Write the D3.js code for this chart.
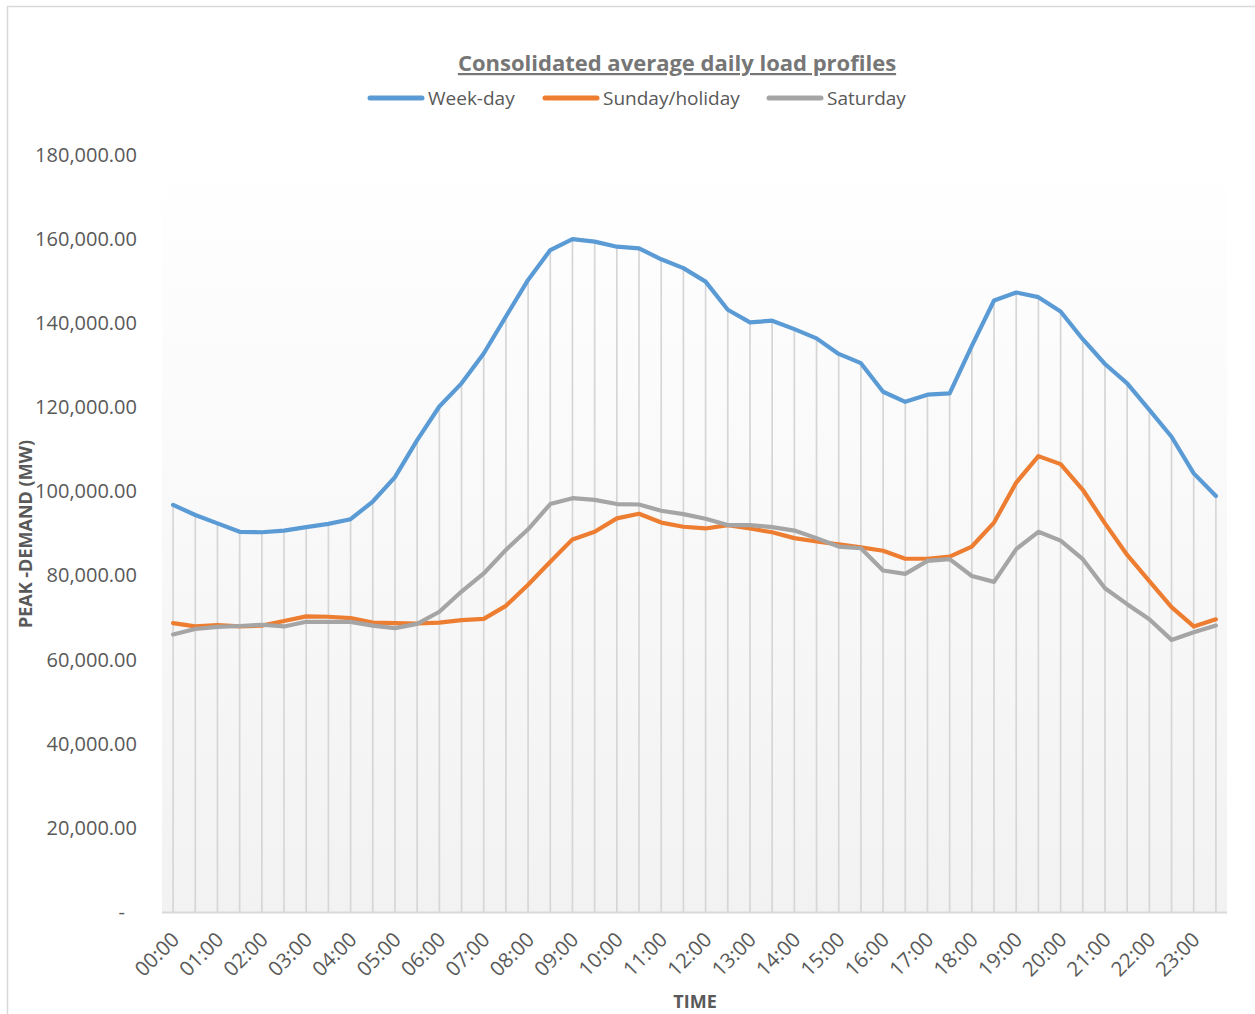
<!DOCTYPE html>
<html>
<head>
<meta charset="utf-8">
<script src="https://cdn.jsdelivr.net/npm/d3@7"></script>
<style>
  html, body { margin: 0; padding: 0; background: #ffffff; }
  svg { display: block; }
</style>
</head>
<body>
<svg id="chart" width="1255" height="1014"></svg>
<script>
// Half-hourly time slots
const times = [
  "00:00","00:30","01:00","01:30","02:00","02:30","03:00","03:30",
  "04:00","04:30","05:00","05:30","06:00","06:30","07:00","07:30",
  "08:00","08:30","09:00","09:30","10:00","10:30","11:00","11:30",
  "12:00","12:30","13:00","13:30","14:00","14:30","15:00","15:30",
  "16:00","16:30","17:00","17:30","18:00","18:30","19:00","19:30",
  "20:00","20:30","21:00","21:30","22:00","22:30","23:00","23:30"
];

// Average demand (MW) per slot
const weekday = [
  96800, 94400, 92400, 90400, 90300, 90700, 91500, 92300,
  93400, 97600, 103400, 112200, 120200, 125700, 132800, 141600,
  150300, 157400, 160000, 159400, 158200, 157800, 155200, 153100,
  149900, 143200, 140200, 140600, 138600, 136400, 132700, 130500,
  123700, 121300, 123000, 123300, 134600, 145400, 147300, 146200,
  142800, 136200, 130300, 125700, 119400, 113000, 104300, 98900
];
const sundayHoliday = [
  68700, 67900, 68200, 67900, 68100, 69200, 70300, 70200,
  69900, 68800, 68700, 68600, 68800, 69400, 69700, 72800,
  77800, 83300, 88600, 90400, 93600, 94700, 92600, 91600,
  91200, 92000, 91200, 90300, 88900, 88100, 87400, 86700,
  85900, 84000, 84000, 84500, 86900, 92600, 102100, 108400,
  106500, 100400, 92400, 84900, 78700, 72500, 67900, 69600
];
const saturday = [
  66000, 67300, 67800, 68000, 68300, 67900, 69000, 69000,
  69000, 68100, 67500, 68500, 71400, 76200, 80500, 86100,
  91000, 97000, 98400, 98000, 97000, 96900, 95400, 94600,
  93500, 92000, 92000, 91500, 90700, 88900, 86900, 86500,
  81200, 80400, 83500, 83900, 79900, 78500, 86300, 90400,
  88300, 83900, 77000, 73200, 69600, 64700, 66500, 68100
];

const seriesNames = ["Week-day", "Sunday/holiday", "Saturday"];
const seriesColors = ["#5b9bd5", "#ed7d31", "#a5a5a5"];
const yTicks = [0, 20000, 40000, 60000, 80000, 100000, 120000, 140000, 160000, 180000];
const hourLabels = times.filter(t => t.endsWith(":00"));

const series = [weekday, sundayHoliday, saturday].map((vals, i) => ({
  name: seriesNames[i], color: seriesColors[i], values: vals
}));

const svg = d3.select("#chart");
const font = "'Open Sans', 'DejaVu Sans', sans-serif";
const textCol = "#595959";

const plot = { left: 162, right: 1227, top: 155, bottom: 912 };

// Chart frame
svg.append("rect")
  .attr("x", 7.5).attr("y", 6.5)
  .attr("width", 1300).attr("height", 1100)
  .attr("fill", "#ffffff")
  .attr("stroke", "#d9d9d9").attr("stroke-width", 1.5);

// Plot-area gradient fill
const defs = svg.append("defs");
const grad = defs.append("linearGradient")
  .attr("id", "plotFill").attr("x1", 0).attr("y1", 0).attr("x2", 0).attr("y2", 1);
grad.append("stop").attr("offset", "0%").attr("stop-color", "#ffffff");
grad.append("stop").attr("offset", "100%").attr("stop-color", "#f2f2f2");

svg.append("rect")
  .attr("x", plot.left).attr("y", plot.top)
  .attr("width", plot.right - plot.left).attr("height", plot.bottom - plot.top)
  .attr("fill", "url(#plotFill)");

const x = d3.scalePoint().domain(times).range([plot.left, plot.right]).padding(0.5);
const y = d3.scaleLinear().domain([0, 180000]).range([plot.bottom, plot.top]);

// Drop lines from the highest series down to the axis
svg.append("g").selectAll("line")
  .data(times)
  .join("line")
  .attr("x1", d => x(d)).attr("x2", d => x(d))
  .attr("y1", (d, i) => y(d3.max(series, s => s.values[i])))
  .attr("y2", y(0))
  .attr("stroke", "#d6d6d6").attr("stroke-width", 1.7);

// Category axis line
svg.append("line")
  .attr("x1", plot.left).attr("x2", plot.right)
  .attr("y1", y(0) + 0.5).attr("y2", y(0) + 0.5)
  .attr("stroke", "#d9d9d9").attr("stroke-width", 1.8);

// Value axis labels
const yAxis = d3.axisLeft(y)
  .tickValues(yTicks)
  .tickSize(0)
  .tickPadding(0)
  .tickFormat(v => v === 0 ? "-" : d3.format(",.2f")(v));
const yg = svg.append("g").attr("transform", "translate(137,0)").call(yAxis);
yg.select(".domain").remove();
yg.selectAll("text")
  .attr("font-family", font).attr("font-size", 20).attr("fill", textCol)
  .attr("dx", v => v === 0 ? -12 : 0);

// Category axis labels (hours only)
const xAxis = d3.axisBottom(x)
  .tickValues(hourLabels)
  .tickSize(0)
  .tickPadding(0);
const xg = svg.append("g").attr("transform", `translate(0,${plot.bottom})`).call(xAxis);
xg.select(".domain").remove();
xg.selectAll("text")
  .attr("font-family", font).attr("font-size", 20.5).attr("fill", textCol)
  .attr("text-anchor", "end")
  .attr("dy", null).attr("y", null)
  .attr("transform", "translate(3,25) rotate(-45)")
  .attr("dominant-baseline", "middle");

// Series lines
const line = d3.line()
  .x((d, i) => x(times[i]))
  .y(d => y(d));
svg.append("g").selectAll("path")
  .data(series)
  .join("path")
  .attr("d", s => line(s.values))
  .attr("fill", "none")
  .attr("stroke", s => s.color)
  .attr("stroke-width", 4.2)
  .attr("stroke-linejoin", "round")
  .attr("stroke-linecap", "round");

// Title
svg.append("text")
  .attr("x", 677).attr("y", 71)
  .attr("text-anchor", "middle")
  .attr("font-family", font).attr("font-size", 22).attr("font-weight", "bold")
  .attr("fill", "#767676")
  .attr("text-decoration", "underline")
  .text("Consolidated average daily load profiles");

// Legend
const legendX = [370, 545, 769];
const lg = svg.append("g").selectAll("g")
  .data(series)
  .join("g")
  .attr("transform", (d, i) => `translate(${legendX[i]},98)`);
lg.append("line")
  .attr("x1", 0).attr("x2", 52).attr("y1", 0).attr("y2", 0)
  .attr("stroke", d => d.color).attr("stroke-width", 5)
  .attr("stroke-linecap", "round");
lg.append("text")
  .attr("x", 58).attr("y", 0).attr("dy", "0.35em")
  .attr("font-family", font).attr("font-size", 19).attr("fill", textCol)
  .text(d => d.name);

// Axis titles
svg.append("text")
  .attr("transform", "translate(32,534) rotate(-90)")
  .attr("text-anchor", "middle")
  .attr("font-family", font).attr("font-size", 18).attr("font-weight", "bold")
  .attr("fill", textCol)
  .text("PEAK -DEMAND (MW)");

svg.append("text")
  .attr("x", 695).attr("y", 1008)
  .attr("text-anchor", "middle")
  .attr("font-family", font).attr("font-size", 18).attr("font-weight", "bold")
  .attr("fill", textCol)
  .text("TIME");
</script>
</body>
</html>
